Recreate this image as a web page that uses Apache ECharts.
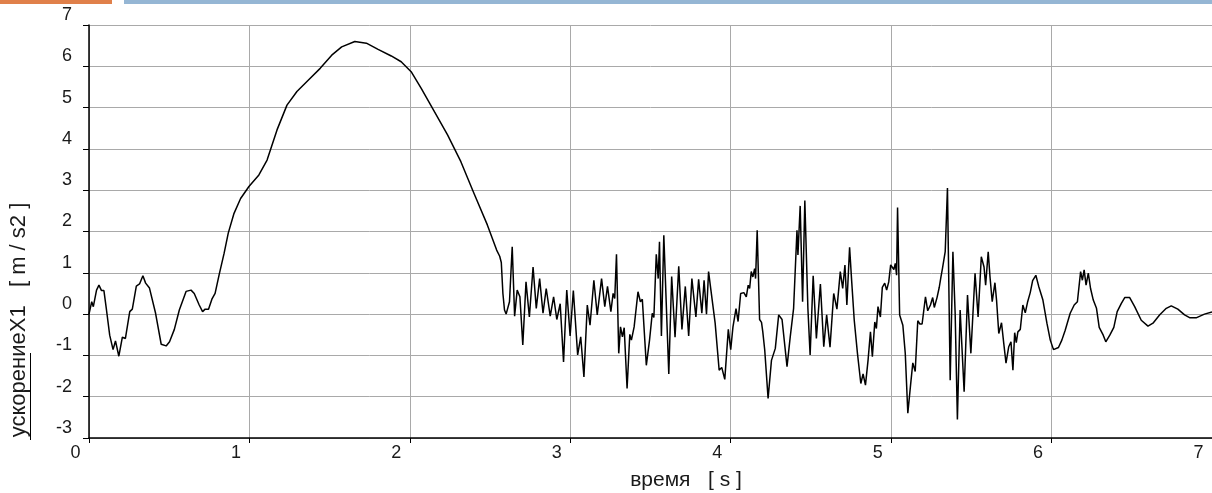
<!DOCTYPE html>
<html>
<head>
<meta charset="utf-8">
<script src="https://cdn.jsdelivr.net/npm/echarts@6/dist/echarts.min.js"></script>
<style>
  html, body { margin: 0; padding: 0; background: #fff; }
  #chart { width: 1212px; height: 493px; }
</style>
</head>
<body>
<div id="chart"></div>
<script>
// time [s] and acceleration [m/s2]
const timeS = [
  0, 0.017, 0.027, 0.047, 0.062, 0.078, 0.093, 0.109, 0.129, 0.150, 0.165, 0.186, 0.208, 0.227,
  0.254, 0.270, 0.295, 0.315, 0.336, 0.353, 0.377, 0.415, 0.450, 0.481, 0.502, 0.532, 0.563,
  0.605, 0.636, 0.656, 0.687, 0.708, 0.724, 0.745, 0.766, 0.786, 0.811, 0.842, 0.868, 0.904,
  0.945, 0.997, 1.059, 1.110, 1.172, 1.234, 1.296, 1.368, 1.441, 1.513, 1.575, 1.657, 1.729,
  1.802, 1.884, 1.946, 2.008, 2.070, 2.153, 2.235, 2.318, 2.400, 2.483, 2.541, 2.560, 2.570,
  2.580, 2.590, 2.600, 2.607, 2.621, 2.638, 2.653, 2.669, 2.686, 2.704, 2.724, 2.745, 2.768,
  2.788, 2.809, 2.830, 2.850, 2.875, 2.896, 2.916, 2.937, 2.958, 2.978, 2.999, 3.019, 3.046,
  3.065, 3.085, 3.106, 3.123, 3.147, 3.168, 3.195, 3.215, 3.232, 3.253, 3.267, 3.277, 3.288,
  3.302, 3.313, 3.325, 3.336, 3.354, 3.371, 3.381, 3.398, 3.422, 3.437, 3.449, 3.474, 3.494,
  3.511, 3.521, 3.536, 3.548, 3.556, 3.568, 3.583, 3.614, 3.632, 3.653, 3.676, 3.696, 3.717,
  3.738, 3.758, 3.783, 3.800, 3.820, 3.834, 3.849, 3.862, 3.876, 3.887, 3.903, 3.928, 3.944,
  3.963, 3.985, 4.000, 4.014, 4.033, 4.046, 4.062, 4.082, 4.097, 4.109, 4.118, 4.128, 4.138,
  4.149, 4.155, 4.165, 4.180, 4.192, 4.200, 4.212, 4.233, 4.254, 4.278, 4.299, 4.320, 4.351,
  4.371, 4.392, 4.402, 4.413, 4.419, 4.433, 4.448, 4.462, 4.481, 4.495, 4.514, 4.534, 4.559,
  4.580, 4.598, 4.619, 4.642, 4.662, 4.683, 4.698, 4.712, 4.724, 4.741, 4.753, 4.770, 4.790,
  4.811, 4.825, 4.840, 4.856, 4.871, 4.883, 4.898, 4.908, 4.918, 4.933, 4.945, 4.960, 4.972,
  4.985, 4.997, 5.009, 5.017, 5.026, 5.034, 5.040, 5.053, 5.063, 5.073, 5.088, 5.104, 5.121,
  5.135, 5.150, 5.166, 5.179, 5.193, 5.214, 5.228, 5.245, 5.259, 5.269, 5.286, 5.300, 5.310,
  5.320, 5.331, 5.337, 5.351, 5.368, 5.385, 5.399, 5.413, 5.430, 5.455, 5.476, 5.497, 5.523,
  5.542, 5.562, 5.579, 5.589, 5.605, 5.616, 5.630, 5.647, 5.657, 5.671, 5.688, 5.702, 5.716,
  5.733, 5.747, 5.759, 5.770, 5.780, 5.790, 5.805, 5.821, 5.836, 5.851, 5.867, 5.882, 5.902,
  5.920, 5.946, 5.971, 5.992, 6.012, 6.043, 6.064, 6.085, 6.116, 6.141, 6.161, 6.173, 6.181,
  6.192, 6.203, 6.215, 6.229, 6.243, 6.260, 6.280, 6.297, 6.322, 6.338, 6.363, 6.388, 6.409,
  6.435, 6.456, 6.487, 6.518, 6.559, 6.601, 6.632, 6.673, 6.715, 6.746, 6.787, 6.829, 6.863,
  6.901, 6.953, 7.0
]
const accel = [
  0.0, 0.30, 0.18, 0.58, 0.70, 0.57, 0.57, 0.10, -0.51, -0.86, -0.65, -1.02, -0.56, -0.59,
  0.06, 0.12, 0.68, 0.73, 0.93, 0.75, 0.63, 0.02, -0.73, -0.77, -0.67, -0.37, 0.10,
  0.55, 0.58, 0.50, 0.22, 0.06, 0.12, 0.12, 0.36, 0.50, 0.95, 1.47, 1.96, 2.44,
  2.80, 3.09, 3.37, 3.73, 4.46, 5.06, 5.39, 5.67, 5.95, 6.27, 6.47, 6.60, 6.56,
  6.41, 6.25, 6.11, 5.87, 5.47, 4.90, 4.34, 3.69, 2.92, 2.16, 1.55, 1.40, 1.25,
  0.50, 0.10, 0.00, 0.02, 0.30, 1.63, -0.05, 0.58, 0.42, -0.75, 0.78, -0.07, 1.14,
  0.14, 0.86, 0.02, 0.62, -0.05, 0.42, -0.13, 0.25, -1.16, 0.58, -0.53, 0.57, -0.99,
  -0.55, -1.52, 0.22, -0.27, 0.82, -0.02, 0.86, 0.18, 0.67, 0.06, 0.50, 0.38, 1.45,
  -0.95, -0.31, -0.55, -0.33, -1.80, -0.49, -0.63, -0.31, 0.54, 0.30, 0.36, -1.24, -0.63,
  0.02, -0.08, 1.45, 0.86, 1.75, -0.53, 1.91, -1.45, 0.91, -0.56, 1.16, -0.37, 0.67,
  -0.53, 0.86, -0.07, 0.84, 0.02, 0.82, 0.00, 1.03, 0.60, 0.60, -0.22, -1.36, -1.29,
  -1.58, -0.37, -0.86, -0.31, 0.13, -0.18, 0.50, 0.52, 0.42, 0.70, 0.62, 1.03, 0.90,
  1.10, 0.86, 2.03, -0.13, -0.20, -0.43, -0.87, -2.04, -1.12, -0.83, -0.02, -0.13, -1.27,
  -0.55, 0.14, 0.14, 2.03, 1.43, 2.62, 0.30, 2.75, 0.14, -0.99, 0.93, -0.59, 0.73,
  -0.79, -0.02, -0.80, 0.50, 0.12, 1.03, 0.62, 1.19, 0.22, 1.62, 0.86, -0.15, -0.95,
  -1.68, -1.45, -1.72, -1.12, -0.43, -1.03, -0.19, -0.35, 0.18, -0.07, 0.65, 0.75, 0.58,
  0.78, 1.19, 1.23, 1.08, 1.23, 0.94, 2.58, -0.02, -0.05, -0.27, -0.95, -2.40, -1.72,
  -1.18, -1.39, -0.16, -0.24, -0.24, 0.42, 0.08, 0.22, 0.40, 0.16, 0.40, 0.65, 0.89,
  1.11, 1.07, 1.51, 3.05, -1.60, 1.51, 0.02, -2.55, 0.10, -1.88, 0.46, -0.95, 0.99,
  -0.07, 1.39, 1.14, 0.70, 1.51, 0.91, 0.30, 0.76, 0.34, -0.47, -0.21, -0.71, -1.19,
  -0.79, -0.67, -1.36, -0.45, -0.69, -0.43, -0.37, 0.22, 0.03, 0.30, 0.52, 0.81, 0.94,
  0.67, 0.34, -0.22, -0.63, -0.86, -0.81, -0.63, -0.39, 0.02, 0.22, 0.30, 0.28, 1.03,
  0.82, 1.07, 0.70, 0.99, 0.62, 0.34, 0.14, -0.32, -0.51, -0.67, -0.51, -0.32, 0.06,
  0.26, 0.40, 0.40, 0.18, -0.15, -0.29, -0.22, -0.02, 0.14, 0.20, 0.12, -0.02, -0.09,
  -0.09, 0.00, 0.05
]
const xTitle = 'время   [ s ]'
const yTitle = 'ускорениеX1   [ m / s2 ]'

const font = '"Liberation Sans", Arial, sans-serif'
const labelColor = '#1a1a1a'

const chart = echarts.init(document.getElementById('chart'))

chart.setOption({
  animation: false,
  grid: { left: 89, right: -7.5, top: 25, bottom: 55 },
  xAxis: {
    type: 'value',
    min: 0,
    max: 7,
    interval: 1,
    axisLine: { onZero: false, lineStyle: { color: '#000', width: 1.5 } },
    axisTick: { show: true, length: 5, lineStyle: { color: '#000', width: 1 } },
    axisLabel: {
      color: labelColor,
      fontFamily: font,
      fontSize: 18,
      margin: 6,
      padding: [0, 27, 0, 0],
      showMaxLabel: true,
    },
    splitLine: { show: true, lineStyle: { color: '#a9a9a9', width: 1 } },
  },
  yAxis: {
    type: 'value',
    min: -3,
    max: 7,
    interval: 1,
    axisLine: { show: true, onZero: false, lineStyle: { color: '#000', width: 1.5 } },
    axisTick: { show: true, length: 6, lineStyle: { color: '#000', width: 1 } },
    axisLabel: {
      color: labelColor,
      fontFamily: font,
      fontSize: 18,
      margin: 17,
      verticalAlign: 'bottom',
      lineHeight: 20,
      showMaxLabel: true,
    },
    splitLine: { show: true, lineStyle: { color: '#a9a9a9', width: 1 } },
  },
  series: [
    {
      type: 'line',
      data: timeS.map((t, i) => [t, accel[i]]),
      symbol: 'none',
      smooth: false,
      clip: true,
      lineStyle: { color: '#000', width: 1.5 },
      emphasis: { disabled: true },
    },
  ],
  graphic: [
    // header strip
    { type: 'rect', shape: { x: 0, y: 0, width: 112, height: 4 }, style: { fill: '#e0804a' } },
    { type: 'rect', shape: { x: 124, y: 0, width: 1088, height: 4 }, style: { fill: '#95b6d4' } },
    {
      type: 'text',
      x: 686,
      y: 480,
      style: {
        text: xTitle,
        fill: labelColor,
        font: '21px ' + font,
        align: 'center',
        verticalAlign: 'middle',
      },
    },
    {
      type: 'text',
      x: 19,
      y: 320,
      rotation: Math.PI / 2,
      style: {
        text: yTitle,
        fill: labelColor,
        font: '22px ' + font,
        align: 'center',
        verticalAlign: 'middle',
      },
    },
    // underline under "ускорение"
    {
      type: 'line',
      shape: { x1: 30.5, y1: 353, x2: 30.5, y2: 440 },
      style: { stroke: '#000', lineWidth: 1 },
    },
  ],
})
</script>
</body>
</html>
